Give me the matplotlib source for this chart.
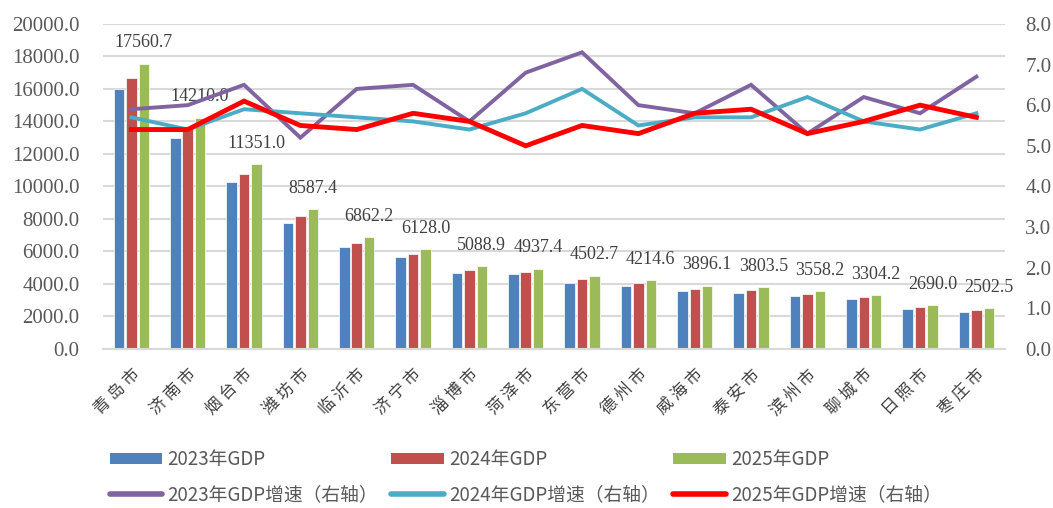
import numpy as np
import matplotlib
matplotlib.use("Agg")
import matplotlib.pyplot as plt
from matplotlib.patches import Patch
from matplotlib.lines import Line2D

plt.rcParams['font.family'] = ['Noto Sans CJK SC', 'DejaVu Sans']

cities = ["青岛市", "济南市", "烟台市", "潍坊市", "临沂市", "济宁市", "淄博市", "菏泽市",
          "东营市", "德州市", "威海市", "泰安市", "滨州市", "聊城市", "日照市", "枣庄市"]

gdp_2023 = [15990, 13000, 10250, 7780, 6255, 5640, 4650, 4590,
            4050, 3870, 3560, 3440, 3250, 3050, 2450, 2260]
gdp_2024 = [16700, 13528, 10760, 8190, 6540, 5823, 4840, 4750,
            4300, 4030, 3700, 3600, 3400, 3170, 2570, 2390]
gdp_2025 = [17560.7, 14210.0, 11351.0, 8587.4, 6862.2, 6128.0, 5088.9, 4937.4,
            4502.7, 4214.6, 3896.1, 3803.5, 3558.2, 3304.2, 2690.0, 2502.5]

growth_2023 = [5.9, 6.0, 6.5, 5.2, 6.4, 6.5, 5.6, 6.8,
               7.3, 6.0, 5.8, 6.5, 5.3, 6.2, 5.8, 6.7]
growth_2024 = [5.7, 5.4, 5.9, 5.8, 5.7, 5.6, 5.4, 5.8,
               6.4, 5.5, 5.7, 5.7, 6.2, 5.6, 5.4, 5.8]
growth_2025 = [5.4, 5.4, 6.1, 5.5, 5.4, 5.8, 5.6, 5.0,
               5.5, 5.3, 5.8, 5.9, 5.3, 5.6, 6.0, 5.7]

bar_colors = ["#4F81BD", "#C0504D", "#9BBB59"]
line_colors = ["#8064A2", "#4BACC6", "#FF0000"]
tick_gray = "#595959"
serif = ["Liberation Serif", "DejaVu Serif"]

fig = plt.figure(figsize=(10.53, 5.08), dpi=100)
ax = fig.add_axes([0.098, 0.313, 0.856, 0.640])

x = np.arange(len(cities))
w = 0.185
step = 0.22
for i, vals in enumerate([gdp_2023, gdp_2024, gdp_2025]):
    ax.bar(x + (i - 1) * step, vals, width=w, color=bar_colors[i],
           edgecolor="white", linewidth=0.5, zorder=2)

# data labels above the 2025 bars
for xi, v in zip(x, gdp_2025):
    ax.annotate(f"{v:.1f}", (xi + step, v), xytext=(0, 9), textcoords="offset points",
                ha="center", va="bottom", fontsize=13, family=serif, color="#404040")

ax.set_xlim(-0.5, len(cities) - 0.5)
ax.set_ylim(0, 20000)
ax.set_yticks(np.arange(0, 20001, 2000))
ax.set_yticklabels([f"{v:.1f}" for v in np.arange(0, 20001, 2000)], family=serif,
                   fontsize=15, color=tick_gray)
ax.grid(axis="y", color="#D9D9D9", linewidth=1.5, zorder=0)
ax.set_axisbelow(True)
for s in ["top", "right", "left"]:
    ax.spines[s].set_visible(False)
ax.spines["bottom"].set_color("#D9D9D9")
ax.spines["bottom"].set_linewidth(1.5)
ax.tick_params(axis="both", length=0)
ax.tick_params(axis="y", pad=17)
ax.set_xticks(x)
ax.set_xticklabels([" ".join(c) for c in cities], rotation=45, ha="right", va="top",
                   rotation_mode="anchor", fontsize=12, color="#404040")
ax.tick_params(axis="x", pad=12)

ax2 = ax.twinx()
ax2.set_ylim(0, 8)
ax2.set_yticks(np.arange(0, 8.01, 1))
ax2.set_yticklabels([f"{v:.1f}" for v in np.arange(0, 8.01, 1)], family=serif,
                    fontsize=15, color=tick_gray)
ax2.tick_params(axis="y", length=0, pad=15)
for s in ax2.spines.values():
    s.set_visible(False)
widths = [2.8, 2.8, 3.5]
for vals, c, lw in zip([growth_2023, growth_2024, growth_2025], line_colors, widths):
    ax2.plot(x, vals, color=c, linewidth=lw, solid_joinstyle="miter", zorder=3)

labels_bar = ["2023年GDP", "2024年GDP", "2025年GDP"]
labels_line = ["2023年GDP增速（右轴）", "2024年GDP增速（右轴）", "2025年GDP增速（右轴）"]
handles, labels = [], []
for i in range(3):
    handles.append(Patch(facecolor=bar_colors[i]))
    labels.append(labels_bar[i])
    handles.append(Line2D([0], [0], color=line_colors[i], linewidth=4, solid_capstyle="round"))
    labels.append(labels_line[i])

fig.legend(handles, labels, ncol=3, loc="lower left", bbox_to_anchor=(0.088, -0.028),
           frameon=False, fontsize=13.5, handlelength=2.8, handleheight=0.55,
           columnspacing=0.7, labelspacing=0.75, handletextpad=0.3,
           labelcolor="#595959")

fig.savefig("out.png", dpi=100)
